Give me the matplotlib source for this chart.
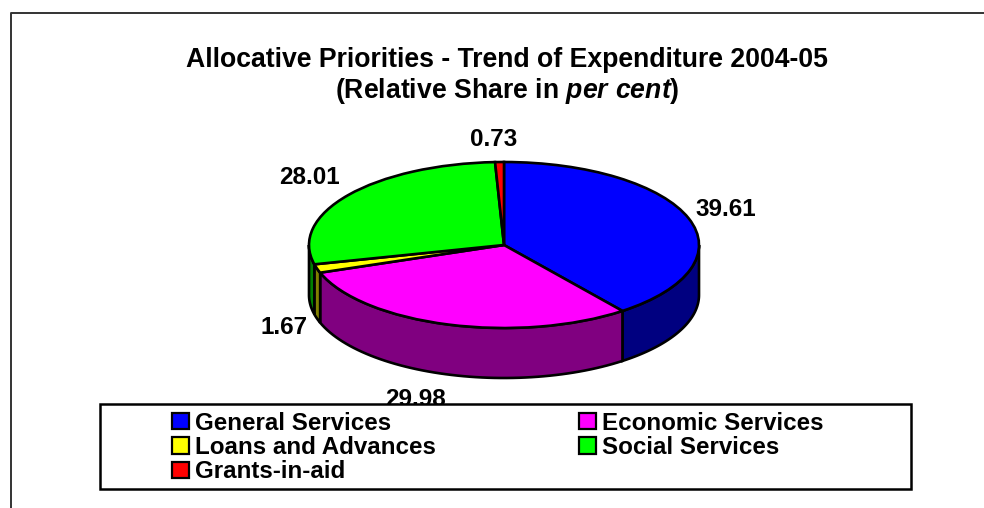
import numpy as np
import matplotlib
matplotlib.use('Agg')
import matplotlib.pyplot as plt
from matplotlib.patches import Rectangle, Patch

plt.rcParams['font.family'] = ['Liberation Sans', 'DejaVu Sans']
plt.rcParams['mathtext.fontset'] = 'custom'
plt.rcParams['mathtext.it'] = 'Liberation Sans:italic:bold'

# data
categories = ['General Services', 'Economic Services', 'Loans and Advances',
              'Social Services', 'Grants-in-aid']
shares = [39.61, 29.98, 1.67, 28.01, 0.73]
top_colors = ['#0000ff', '#ff00ff', '#ffff00', '#00ff00', '#ff0000']
side_colors = ['#000080', '#800080', '#808000', '#008000', '#800000']
value_labels = ['39.61', '29.98', '1.67', '28.01', '0.73']

W, H = 984, 508
fig = plt.figure(figsize=(W / 100, H / 100), dpi=100)

# overlay in pixel coords for frame, text and legend box
bg = fig.add_axes([0, 0, 1, 1], zorder=0)
bg.set_xlim(0, W)
bg.set_ylim(H, 0)
bg.axis('off')
bg.plot([10.5, 10.5, W + 5], [H + 5, 12.5, 12.5], color='#333333', lw=1.4, clip_on=False)

bg.text(507, 60, 'Allocative Priorities - Trend of Expenditure 2004-05', ha='center', va='center',
        fontsize=19.2, fontweight='bold')
bg.text(507, 91, r'(Relative Share in $\mathit{per\ cent}$)', ha='center', va='center',
        fontsize=19.2, fontweight='bold')

# pie, unit circle squashed into the 3D looking ellipse
cx, cy, rx, ry, depth = 504, 245, 195, 83, 50
ax = fig.add_axes([(cx - rx) / W, 1 - (cy + ry) / H, 2 * rx / W, 2 * ry / H], zorder=1)
ax.pie(shares, colors=top_colors, startangle=90, counterclock=False,
       wedgeprops={'edgecolor': 'black', 'linewidth': 1.9, 'zorder': 3})
ax.set_aspect('auto')
d = depth / ry

# side walls for the front half of the pie
ends = 90 - np.cumsum(shares) * 3.6
starts = np.r_[90, ends[:-1]]
for a1, a2, col in zip(starts, ends, side_colors):
    # a1 > a2, going clockwise; wall is only visible between -180 and 0
    hi, lo = min(a1, 0), max(a2, -180)
    if hi <= lo:
        continue
    t = np.radians(np.linspace(lo, hi, 60))
    xs = np.r_[np.cos(t), np.cos(t)[::-1]]
    ys = np.r_[np.sin(t), np.sin(t)[::-1] - d]
    ax.fill(xs, ys, facecolor=col, edgecolor='black', lw=1.9, clip_on=False, zorder=2)
ax.set_xlim(-1, 1)
ax.set_ylim(-1, 1)

# value labels and legend on top
top = fig.add_axes([0, 0, 1, 1], zorder=2)
top.set_xlim(0, W)
top.set_ylim(H, 0)
top.axis('off')
label_x = [726, 415, 284, 309, 494]
label_y = [210, 400, 328, 178, 140]
for lab, x, y in zip(value_labels, label_x, label_y):
    top.text(x, y, lab, ha='center', va='center', fontsize=17.5, fontweight='bold', zorder=1)

top.add_patch(Rectangle((100, 404), 811, 85, facecolor='white', edgecolor='black', lw=1.8, zorder=2))

order = [0, 2, 4, 1, 3]
handles = [Patch(facecolor=top_colors[i], edgecolor='black', lw=1.6, label=categories[i]) for i in order]
leg = top.legend(handles=handles, ncols=2, frameon=False, loc='upper left',
                 bbox_to_anchor=(172 / W, 1 - 411.5 / H), prop={'size': 17.4, 'weight': 'bold'},
                 handlelength=0.7, handleheight=0.68, handletextpad=0.26,
                 labelspacing=0.06, columnspacing=5.9, borderpad=0, borderaxespad=0)
leg.set_zorder(3)

fig.savefig('out.png', dpi=100)
